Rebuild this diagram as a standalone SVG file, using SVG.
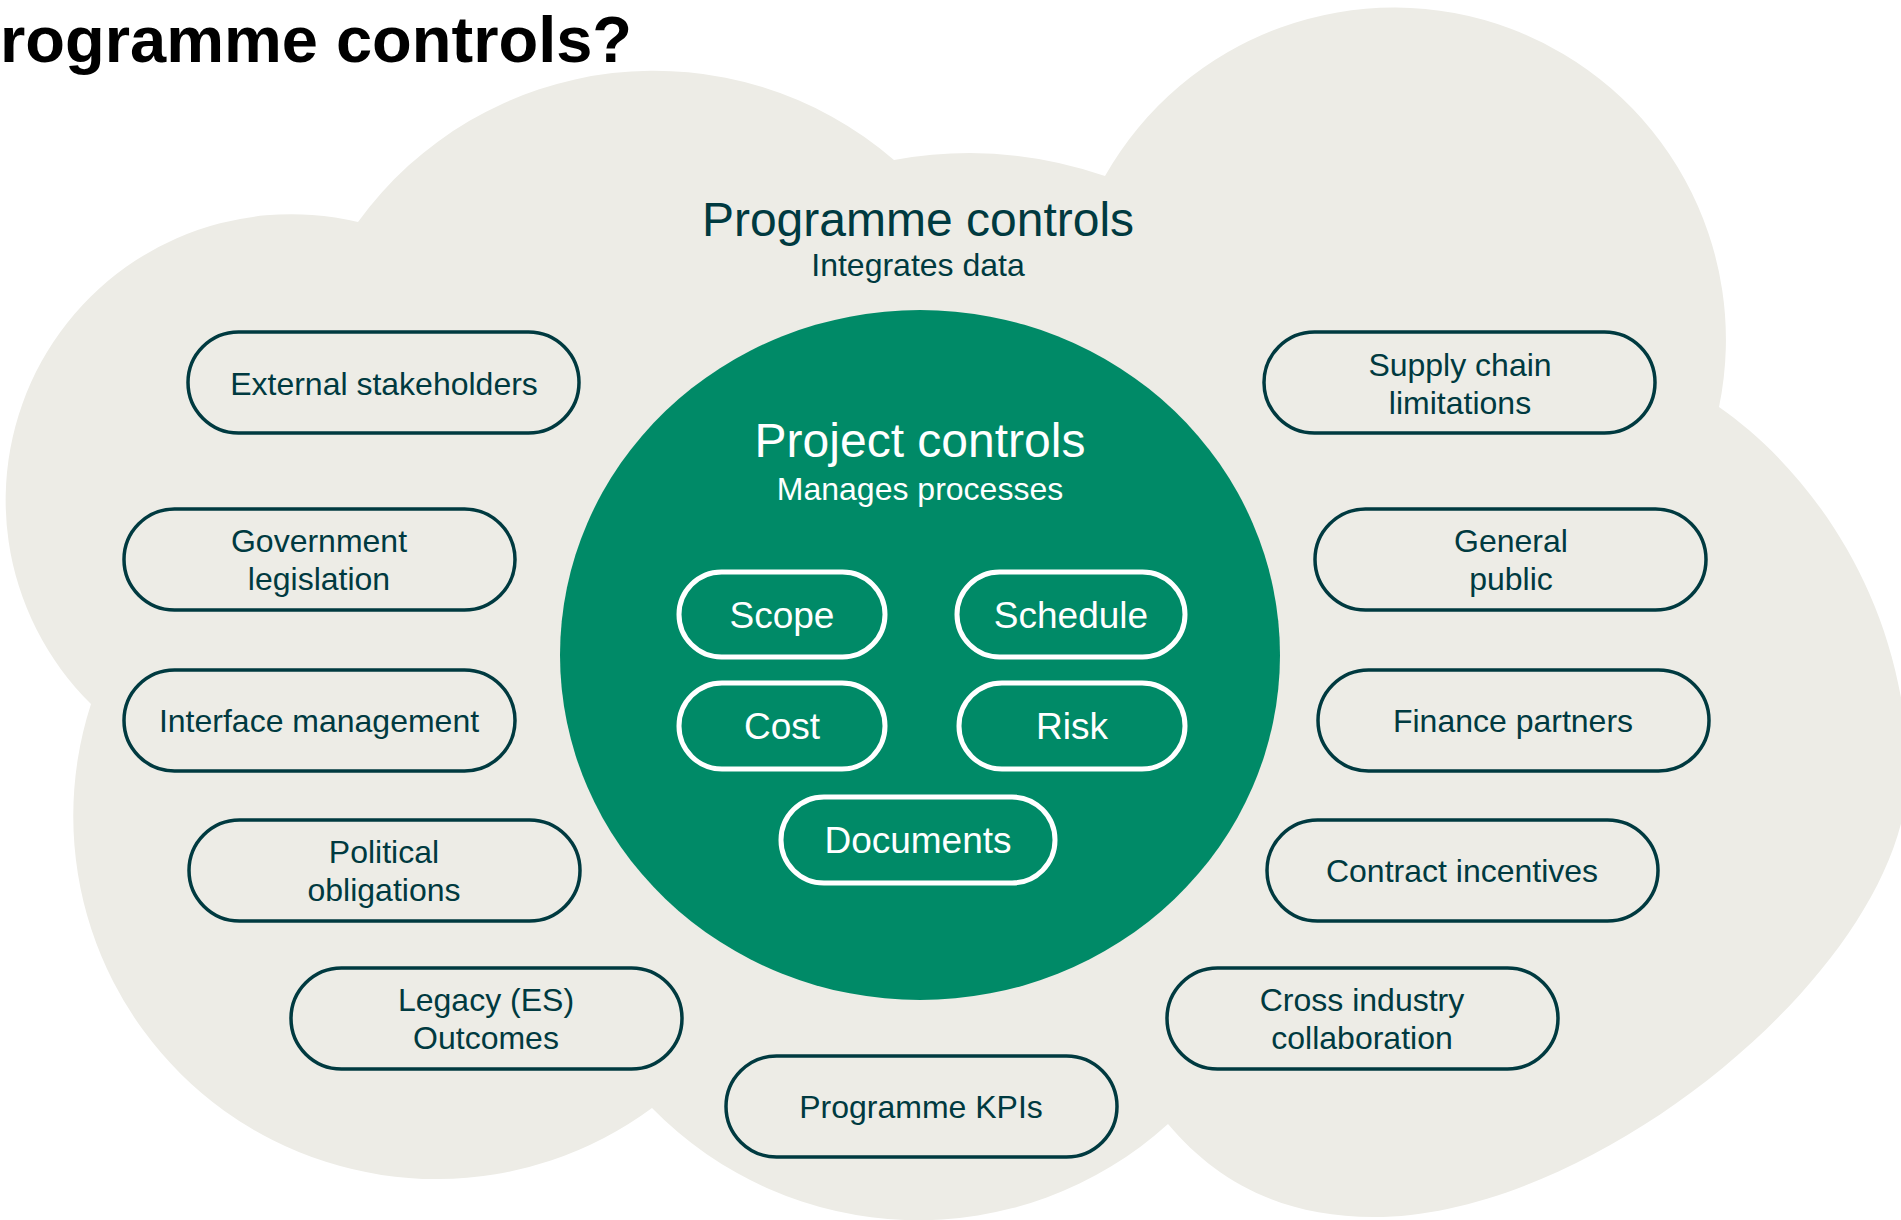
<svg xmlns="http://www.w3.org/2000/svg" width="1901" height="1220" viewBox="0 0 1901 1220">
<style>
.t{font-family:"Liberation Sans",Arial,sans-serif;text-anchor:middle}
.lbl{font-size:32px;fill:#003a40}
.pill{fill:none;stroke:#003a40;stroke-width:3.5}
.ipill{fill:none;stroke:#ffffff;stroke-width:5}
.itx{font-size:37px;fill:#ffffff}
</style>
<rect x="0" y="0" width="1901" height="1220" fill="#ffffff"/>
<text x="0" y="62" style="font-family:'Liberation Sans',Arial,sans-serif;font-weight:bold;font-size:65px;fill:#000000">rogramme controls?</text>
<g id="cloud">
<path fill="#edece6" d="M 358 222 A 366 366 0 0 1 894 160 A 419 419 0 0 1 1105 176 A 332 332 0 0 1 1719 407 C 1810 470, 1905 600, 1908 770 C 1910 960, 1600 1217, 1374 1217 C 1280 1217, 1215 1180, 1168 1124 A 372 372 0 0 1 652 1108 A 363 363 0 0 1 91 704 A 286 286 0 0 1 358 222 Z"/>
<text class="t" x="918" y="236" style="font-size:48px;fill:#003a40">Programme controls</text>
<text class="t" x="918" y="276" style="font-size:32px;fill:#003a40">Integrates data</text>
</g>
<g id="project-controls">
<ellipse cx="920" cy="655" rx="360" ry="345" fill="#008a67"/>
<text class="t" x="920" y="457" style="font-size:48px;fill:#ffffff">Project controls</text>
<text class="t" x="920" y="500" style="font-size:32px;fill:#ffffff">Manages processes</text>
</g>
<g id="scope"><rect class="ipill" x="679" y="572" width="206" height="85" rx="42.5"/><text class="t itx" x="782" y="628">Scope</text></g>
<g id="schedule"><rect class="ipill" x="957" y="572" width="228" height="85" rx="42.5"/><text class="t itx" x="1071" y="628">Schedule</text></g>
<g id="cost"><rect class="ipill" x="679" y="683" width="206" height="86" rx="43"/><text class="t itx" x="782" y="739">Cost</text></g>
<g id="risk"><rect class="ipill" x="959" y="683" width="226" height="86" rx="43"/><text class="t itx" x="1072" y="739">Risk</text></g>
<g id="documents"><rect class="ipill" x="781" y="797" width="274" height="86" rx="43"/><text class="t itx" x="918" y="853">Documents</text></g>
<g id="external-stakeholders"><rect class="pill" x="188" y="332" width="391" height="101" rx="50.5"/><text class="t lbl" x="384" y="395">External stakeholders</text></g>
<g id="government-legislation"><rect class="pill" x="124" y="509" width="391" height="101" rx="50.5"/><text class="t lbl" x="319" y="552">Government</text><text class="t lbl" x="319" y="590">legislation</text></g>
<g id="interface-management"><rect class="pill" x="124" y="670" width="391" height="101" rx="50.5"/><text class="t lbl" x="319" y="732">Interface management</text></g>
<g id="political-obligations"><rect class="pill" x="189" y="820" width="391" height="101" rx="50.5"/><text class="t lbl" x="384" y="863">Political</text><text class="t lbl" x="384" y="901">obligations</text></g>
<g id="legacy-outcomes"><rect class="pill" x="291" y="968" width="391" height="101" rx="50.5"/><text class="t lbl" x="486" y="1011">Legacy (ES)</text><text class="t lbl" x="486" y="1049">Outcomes</text></g>
<g id="programme-kpis"><rect class="pill" x="726" y="1056" width="391" height="101" rx="50.5"/><text class="t lbl" x="921" y="1118">Programme KPIs</text></g>
<g id="supply-chain"><rect class="pill" x="1264" y="332" width="391" height="101" rx="50.5"/><text class="t lbl" x="1460" y="376">Supply chain</text><text class="t lbl" x="1460" y="414">limitations</text></g>
<g id="general-public"><rect class="pill" x="1315" y="509" width="391" height="101" rx="50.5"/><text class="t lbl" x="1511" y="552">General</text><text class="t lbl" x="1511" y="590">public</text></g>
<g id="finance-partners"><rect class="pill" x="1318" y="670" width="391" height="101" rx="50.5"/><text class="t lbl" x="1513" y="732">Finance partners</text></g>
<g id="contract-incentives"><rect class="pill" x="1267" y="820" width="391" height="101" rx="50.5"/><text class="t lbl" x="1462" y="882">Contract incentives</text></g>
<g id="cross-industry"><rect class="pill" x="1167" y="968" width="391" height="101" rx="50.5"/><text class="t lbl" x="1362" y="1011">Cross industry</text><text class="t lbl" x="1362" y="1049">collaboration</text></g>
<g id="connectors"/>
</svg>
